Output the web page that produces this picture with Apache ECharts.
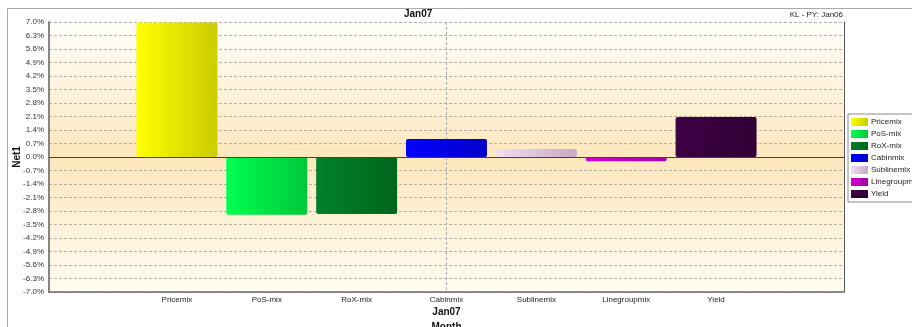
<!DOCTYPE html>
<html>
<head>
<meta charset="utf-8">
<script src="https://cdn.jsdelivr.net/npm/echarts@6/dist/echarts.min.js"></script>
<style>
  html, body { margin: 0; padding: 0; background: #ffffff; }
  #chart { width: 912px; height: 327px; }
</style>
</head>
<body>
<div id="chart"></div>
<script>
// Month category and the mix components plotted for it
const categories = ['Jan07'];
const seriesNames = ['Pricemix', 'PoS-mix', 'RoX-mix', 'Cabinmix', 'Sublinemix', 'Linegroupmix', 'Yield'];
const seriesValues = [6.97, -3.0, -2.95, 0.93, 0.42, -0.22, 2.07];
// Bar fill: lighter left edge, darker right edge
const colorLight = ['#ffff00', '#00ff50', '#00802c', '#0000ff', '#f2dff2', '#d000d0', '#3e0045'];
const colorDark  = ['#cccc00', '#00c83a', '#00661c', '#0000c8', '#c4aac4', '#a800a8', '#300035'];
// Y axis ticks: -7.0% .. 7.0% every 0.7%
const yMin = -7.0, yMax = 7.0, yStep = 0.7;

const W = 912, H = 327;
const gridLeft = 49, gridRight = 68, gridTop = 22, gridBottom = 35;
const catGap = 0.22, barGapRatio = 0.11;

// Band that holds the per-series name labels, aligned with the bar slots
const plotW = W - gridLeft - gridRight;
const usable = plotW * (1 - catGap);
const bw = usable / (seriesNames.length + (seriesNames.length - 1) * barGapRatio);
const span = seriesNames.length * bw * (1 + barGapRatio);
const nameLeft = gridLeft + (plotW - span) / 2;
const nameRight = gridRight + (plotW - span) / 2;

const font = 'Liberation Sans, Arial, sans-serif';

const chart = echarts.init(document.getElementById('chart'), null, { renderer: 'canvas' });

const series = seriesNames.map((name, i) => {
  const s = {
    name: name,
    type: 'bar',
    xAxisIndex: 0,
    yAxisIndex: 0,
    data: [seriesValues[i]],
    barGap: (barGapRatio * 100) + '%',
    barCategoryGap: (catGap * 100) + '%',
    itemStyle: {
      color: new echarts.graphic.LinearGradient(0, 0, 1, 0, [
        { offset: 0, color: colorLight[i] },
        { offset: 1, color: colorDark[i] }
      ]),
      borderRadius: 2
    }
  };
  if (i === 0) {
    s.markLine = {
      silent: true,
      symbol: 'none',
      label: { show: false },
      lineStyle: { type: 'solid', color: '#4f3f2c', width: 1 },
      data: [{ yAxis: 0 }]
    };
  }
  return s;
});

chart.setOption({
  backgroundColor: '#ffffff',
  animation: false,
  textStyle: { fontFamily: font },
  title: [
    { text: 'Jan07', left: 404, top: 9, padding: 0,
      textStyle: { fontSize: 10, fontWeight: 'bold', color: '#111', fontFamily: font } },
    { text: 'KL - PY: Jan06', right: 69, top: 11, padding: 0,
      textStyle: { fontSize: 8, fontWeight: 'normal', color: '#222', fontFamily: font } }
  ],
  graphic: [
    { type: 'polyline', silent: true, z: 100,
      shape: { points: [[7.5, H], [7.5, 8.5], [W, 8.5]] },
      style: { stroke: '#a9a9a9', lineWidth: 1, fill: null } }
  ],
  legend: {
    orient: 'vertical',
    left: 848,
    top: 114,
    padding: [3, 4, 3, 3],
    itemGap: 2,
    itemWidth: 17,
    itemHeight: 8,
    icon: 'rect',
    backgroundColor: '#ffffff',
    borderColor: '#8a8a8a',
    borderWidth: 1,
    borderRadius: 0,
    data: seriesNames,
    textStyle: { fontSize: 8, color: '#222', lineHeight: 10, fontFamily: font, padding: [0, 0, 0, -2] }
  },
  grid: [
    {
      left: gridLeft, right: gridRight, top: gridTop, bottom: gridBottom,
      containLabel: false, outerBoundsMode: 'none',
      show: true, borderWidth: 0,
      backgroundColor: new echarts.graphic.LinearGradient(0, 0, 0, 1, [
        { offset: 0, color: '#fffefb' },
        { offset: 0.5, color: '#fde7bd' },
        { offset: 1, color: '#fffcf2' }
      ])
    },
    { left: nameLeft, right: nameRight, top: gridTop, bottom: gridBottom,
      containLabel: false, outerBoundsMode: 'none', show: false }
  ],
  xAxis: [
    {
      type: 'category', gridIndex: 0, position: 'bottom',
      data: categories,
      axisLine: { show: true, onZero: false, lineStyle: { color: '#6a6a6a', width: 1.5 } },
      axisTick: { show: false },
      axisLabel: { margin: 15, fontSize: 10, fontWeight: 'bold', color: '#111', fontFamily: font },
      splitLine: { show: false },
      name: 'Month', nameLocation: 'middle', nameGap: 30, nameMoveOverlap: false,
      nameTextStyle: { fontSize: 10, fontWeight: 'bold', color: '#111', fontFamily: font }
    },
    {
      type: 'category', gridIndex: 1, position: 'bottom',
      data: seriesNames,
      axisLine: { show: false, onZero: false },
      axisTick: { show: false },
      splitLine: { show: false },
      axisLabel: { margin: 4, fontSize: 8, color: '#222', interval: 0, fontFamily: font }
    },
    {
      // center divider of the month category
      type: 'value', gridIndex: 0, position: 'top',
      min: -1, max: 1, interval: 1,
      axisLine: { show: false, onZero: false }, axisTick: { show: false }, axisLabel: { show: false },
      splitLine: { show: true, lineStyle: { type: [3, 2], color: '#a8a8a8', width: 1 } }
    }
  ],
  yAxis: [
    {
      type: 'value', gridIndex: 0, position: 'left',
      min: yMin, max: yMax, interval: yStep,
      axisLine: { show: true, onZero: false, lineStyle: { color: '#858585', width: 2 } },
      axisTick: { show: false },
      axisLabel: {
        margin: 5, fontSize: 8, color: '#333', fontFamily: font,
        formatter: v => (Math.round(v * 10) / 10).toFixed(1) + '%'
      },
      splitLine: { show: true, lineStyle: { type: [3, 2], color: '#b5aea2', width: 1 } },
      name: 'Net1', nameLocation: 'middle', nameGap: 27, nameRotate: 90, nameMoveOverlap: false,
      nameTextStyle: { fontSize: 10, fontWeight: 'bold', color: '#111', fontFamily: font }
    },
    {
      type: 'value', gridIndex: 0, position: 'right',
      min: yMin, max: yMax, interval: yStep,
      axisLine: { show: true, onZero: false, lineStyle: { color: '#555', width: 1 } },
      axisTick: { show: false }, axisLabel: { show: false }, splitLine: { show: false }
    },
    {
      type: 'value', gridIndex: 1, show: false, min: 0, max: 1
    }
  ],
  series: series
});
</script>
</body>
</html>
